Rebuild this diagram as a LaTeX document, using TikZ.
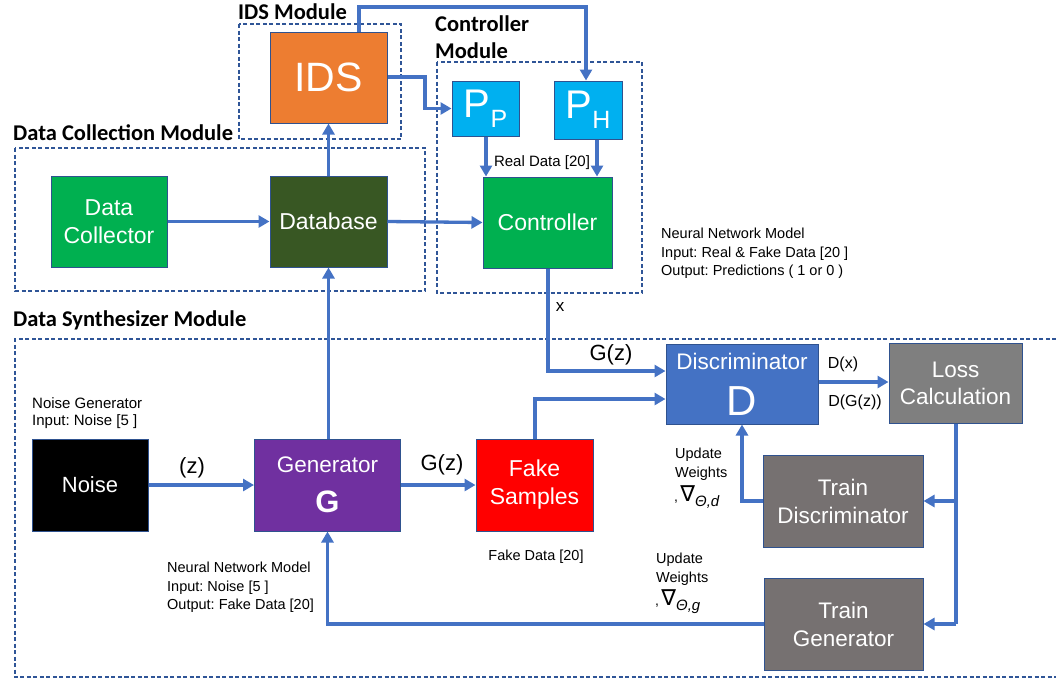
\documentclass[tikz,border=0pt]{standalone}
\usepackage{fontspec}
\setmainfont{Liberation Sans}
\newfontfamily\carl{Carlito}
\newfontfamily\dejav{DejaVu Sans}
\usetikzlibrary{arrows.meta}
\frenchspacing
\definecolor{cOrange}{HTML}{ED7D31}
\definecolor{cCyan}{HTML}{00B0F0}
\definecolor{cGreen}{HTML}{00B050}
\definecolor{cDkGreen}{HTML}{385723}
\definecolor{cPurple}{HTML}{7030A0}
\definecolor{cRed}{HTML}{FF0000}
\definecolor{cDisc}{HTML}{4472C4}
\definecolor{cLoss}{HTML}{7F7F7F}
\definecolor{cTrain}{HTML}{767171}
\definecolor{cArrow}{HTML}{4472C4}
\definecolor{cEdge}{HTML}{2F528F}
\definecolor{cDash}{HTML}{2F5597}
\newcommand{\fs}[2]{\fontsize{#1}{#2}\selectfont}
\tikzset{
  box/.style={draw=cEdge, line width=1pt, text=white, inner sep=0pt, align=center,
    font=\fs{23}{28}},
  flow/.style={cArrow, line width=3.3pt, -{Triangle[length=11pt,width=12pt]}},
  plain/.style={cArrow, line width=3.3pt},
  modbox/.style={cDash, line width=1.5pt, dash pattern=on 4pt off 2.5pt},
  modlabel/.style={font=\carl\bfseries\fs{22.5}{27}, anchor=west, inner sep=0pt, align=left},
  small/.style={font=\fs{14.5}{18.5}, inner sep=0pt, align=left},
  mid/.style={font=\fs{22}{26}, inner sep=0pt},
}
\begin{document}
\begin{tikzpicture}[x=1pt,y=-1pt]
\useasboundingbox (0,0) rectangle (1056,678);

% module frames
\draw[modbox] (239,24) rectangle (401,139);
\draw[modbox] (437,62) rectangle (642,293);
\draw[modbox] (15,148) rectangle (425,291);
\draw[modbox] (1056,339) -- (15,339) -- (15,677) -- (1056,677);

\node[modlabel] (lids) at (238,12) {IDS Module};
\node[modlabel] (lctrl) at (435,37) {Controller\\Module};
\node[modlabel] (ldc) at (13,133) {Data Collection Module};
\node[modlabel] (lds) at (13,320) {Data Synthesizer Module};

% boxes
\node[box, fill=cOrange, minimum width=117pt, minimum height=91pt, font=\fs{41}{41}] (ids) at (328.5,77.5) {IDS};
\node[box, fill=cCyan, minimum width=67pt, minimum height=55pt, font=\fs{40}{40}] (pp) at (485.5,108.5) {P\raisebox{-10pt}{\fs{25}{25}P}};
\node[box, fill=cCyan, minimum width=68pt, minimum height=58pt, font=\fs{40}{40}] (ph) at (588,110) {P\raisebox{-10pt}{\fs{25}{25}H}};
\node[box, fill=cGreen, minimum width=116pt, minimum height=91pt] (dc) at (109,221.5) {Data\\Collector};
\node[box, fill=cDkGreen, minimum width=117pt, minimum height=91pt] (db) at (328.5,221.5) {Database};
\node[box, fill=cGreen, minimum width=129pt, minimum height=91pt] (ctrl) at (547.5,222.5) {Controller};
\node[box, fill=black, minimum width=116pt, minimum height=92pt, font=\fs{22}{26}] (noise) at (90,485) {Noise};
\node[box, fill=cPurple, minimum width=146pt, minimum height=92pt] (gen) at (327.5,485) {\fs{22.5}{26}Generator\\[12pt]{\fs{31}{31}\bfseries G}};
\node[box, fill=cRed, minimum width=117pt, minimum height=92pt] (fake) at (534.5,485) {Fake\\Samples};
\node[box, fill=cDisc, minimum width=152pt, minimum height=80pt] (disc) at (742,384) {\fs{22.5}{26}Discriminator\\[16pt]{\fs{42}{42}D}};
\node[box, fill=cLoss, minimum width=133pt, minimum height=80pt, font=\fs{22.5}{27}] (loss) at (955.5,383) {\raisebox{-3pt}{Loss}\\\raisebox{-3pt}{Calculation}};
\node[box, fill=cTrain, minimum width=160pt, minimum height=92pt, font=\fs{22.5}{28}] (td) at (843,501) {Train\\Discriminator};
\node[box, fill=cTrain, minimum width=159pt, minimum height=92pt, font=\fs{22.5}{28}] (tg) at (843.5,624) {Train\\Generator};

% connectors
\draw[flow] (dc.east) -- (db.west);
\draw[flow] (db.east) -- (ctrl.west);
\draw[flow] (db.north) -- (ids.south);
\draw[flow] (db.south |- gen.north) -- (db.south);
\coordinate (ids1) at (ids.east |- 0,77);
\draw[flow] (ids1) -- (425,77) -- (425,108.5) -- (pp.west);
\coordinate (ids2) at (359,0 |- ids.north);
\draw[flow] (ids2) -- (359,7) -- (586,7) -- (586,0 |- ph.north);
\draw[flow] (486,0 |- pp.south) -- (486,0 |- ctrl.north);
\draw[flow] (597,0 |- ph.south) -- (597,0 |- ctrl.north);
\draw[flow] (548,0 |- ctrl.south) -- (548,371) -- (disc.west |- 0,371);
\draw[flow] (535,0 |- fake.north) -- (535,399) -- (disc.west |- 0,399);
\draw[flow] (disc.east |- 0,382) -- (loss.west |- 0,382);
\draw[plain] (956,0 |- loss.south) -- (956,624);
\draw[flow] (956,501) -- (td.east |- 0,501);
\draw[flow] (956,624) -- (tg.east |- 0,624);
\draw[flow] (td.west |- 0,501) -- (742,501) -- (disc.south);
\draw[flow] (tg.west |- 0,624) -- (gen.south |- 0,624) -- (gen.south);
\draw[flow] (noise.east) -- (gen.west);
\draw[flow] (gen.east) -- (fake.west);

% labels
\node[small, font=\fs{15}{18}] (lreal) at (542,163) {Real Data [20]};
\node[inner sep=0pt, font=\fs{17}{20}] (lx) at (560,307) {x};
\node[mid] (lgz1) at (611,355) {G(z)};
\node[inner sep=0pt, font=\fs{16}{20}] (ldx) at (843,364) {D(x)};
\node[inner sep=0pt, font=\fs{16}{20}] (ldgz) at (855,402) {D(G(z))};
\node[mid] (lz) at (192,468) {(z)};
\node[mid] (lgz2) at (442,465) {G(z)};
\node[small] (lfd) at (536,557) {Fake Data [20]};
\node[small, anchor=west] (lnn1) at (167,587.5) {Neural Network Model\\Input: Noise [5 ]\\Output: Fake Data [20]};
\node[small, anchor=west] (lnn2) at (661,253.5) {Neural Network Model\\Input: Real \& Fake Data [20 ]\\Output: Predictions ( 1 or 0 )};
\node[small, anchor=west, font=\fs{15}{17}] (lng) at (32,413.5) {Noise Generator\\Input: Noise [5 ]};
\node[small, anchor=west] (luw1) at (675,464) {Update\\Weights};
\node[inner sep=0pt, anchor=west] (lgd) at (674,497) {\fs{14}{14},\,{\dejav\fs{22}{22}∇}\raisebox{-5pt}{\fs{15}{15}\itshape Θ,d}};
\node[small, anchor=west] (luw2) at (656,569) {Update\\Weights};
\node[inner sep=0pt, anchor=west] (lgg) at (655,602) {\fs{14}{14},\,{\dejav\fs{22}{22}∇}\raisebox{-5pt}{\fs{15}{15}\itshape Θ,g}};
\end{tikzpicture}
\end{document}
